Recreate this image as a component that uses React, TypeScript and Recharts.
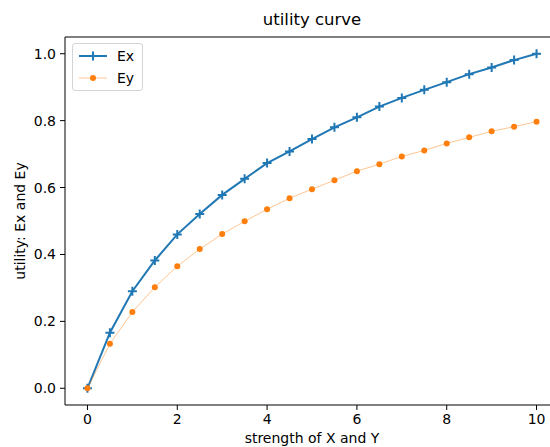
import { Line, LineChart, ReferenceLine, XAxis, YAxis } from "recharts";

const C = {
  ex: "#1f77b4",
  ey: "#ff7f0e",
  ink: "#000000",
};

const FONT = "'DejaVu Sans', sans-serif";
const AXIS = { fontSize: 14, fill: C.ink, fontFamily: FONT };

// strength of X and Y
const strength = [0, 0.5, 1, 1.5, 2, 2.5, 3, 3.5, 4, 4.5, 5, 5.5, 6, 6.5, 7, 7.5, 8, 8.5, 9, 9.5, 10];
const exValues = [
  0, 0.166, 0.29, 0.382, 0.46, 0.521, 0.578, 0.626, 0.673, 0.708, 0.745, 0.78, 0.81, 0.842, 0.868,
  0.892, 0.915, 0.939, 0.959, 0.981, 1.0,
];
const eyValues = [
  0, 0.133, 0.228, 0.302, 0.365, 0.416, 0.461, 0.499, 0.535, 0.568, 0.595, 0.622, 0.649, 0.67, 0.693,
  0.711, 0.732, 0.75, 0.768, 0.782, 0.797,
];
const xTicks = [0, 2, 4, 6, 8, 10];
const yTicks = [0, 0.2, 0.4, 0.6, 0.8, 1.0];

const data = strength.map((s, i) => ({ s, ex: exValues[i], ey: eyValues[i] }));

function Cross(props: any) {
  const { cx, cy, index } = props;
  if (cx == null || cy == null) return null;
  return (
    <path
      key={`c-${index}`}
      d={`M${cx - 4.5},${cy}H${cx + 4.5}M${cx},${cy - 4.5}V${cy + 4.5}`}
      stroke={C.ex}
      strokeWidth={2}
      fill="none"
    />
  );
}

function Dot(props: any) {
  const { cx, cy, index } = props;
  if (cx == null || cy == null) return null;
  return <circle key={`d-${index}`} cx={cx} cy={cy} r={3} fill={C.ey} />;
}

function LegendBox() {
  const row = (label: string, color: string, marker: "cross" | "dot", width: number, opacity: number) => (
    <div style={{ display: "flex", alignItems: "center", height: 22 }}>
      <svg width={28} height={12} style={{ marginRight: 10 }}>
        <line x1={0} y1={6} x2={28} y2={6} stroke={color} strokeWidth={width} strokeOpacity={opacity} />
        {marker === "cross" ? (
          <path d="M9.5,6H18.5M14,1.5V10.5" stroke={color} strokeWidth={2} />
        ) : (
          <circle cx={14} cy={6} r={3} fill={color} />
        )}
      </svg>
      <span>{label}</span>
    </div>
  );
  return (
    <div
      style={{
        position: "absolute",
        left: 72,
        top: 43,
        border: "1px solid #d4d4d4",
        borderRadius: 3,
        background: "rgba(255,255,255,0.8)",
        padding: "1px 8px 1px 6px",
        fontFamily: FONT,
        fontSize: 14,
        color: C.ink,
        lineHeight: "16px",
      }}
    >
      {row("Ex", C.ex, "cross", 2, 1)}
      {row("Ey", C.ey, "dot", 1, 0.45)}
    </div>
  );
}

export default function App() {
  return (
    <div style={{ position: "fixed", left: 0, top: 0, width: 550, height: 447, overflow: "hidden", background: "#fff" }}>
      <div
        style={{
          position: "absolute",
          left: 65,
          width: 494,
          top: 10,
          textAlign: "center",
          fontFamily: FONT,
          fontSize: 16.5,
          color: C.ink,
        }}
      >
        utility curve
      </div>
      <LineChart width={580} height={447} data={data} margin={{ top: 37, right: 21, left: 0, bottom: 0 }}>
        <XAxis
          dataKey="s"
          type="number"
          domain={[-0.5, 10.5]}
          ticks={xTicks}
          allowDataOverflow
          tick={AXIS}
          tickSize={5}
          tickMargin={4}
          tickLine={{ stroke: C.ink }}
          axisLine={{ stroke: C.ink }}
          height={42}
          label={{ value: "strength of X and Y", position: "insideBottom", offset: 4, fontSize: 14, fill: C.ink, fontFamily: FONT }}
        />
        <YAxis
          type="number"
          domain={[-0.05, 1.05]}
          ticks={yTicks}
          allowDataOverflow
          tick={AXIS}
          tickFormatter={(v: number) => v.toFixed(1)}
          tickSize={5}
          tickMargin={4}
          tickLine={{ stroke: C.ink }}
          axisLine={{ stroke: C.ink }}
          width={65}
          label={{ value: "utility: Ex and Ey", angle: -90, position: "center", dx: -12, fontSize: 14, fill: C.ink, fontFamily: FONT }}
        />
        <ReferenceLine y={1.05} stroke={C.ink} />
        <ReferenceLine x={10.5} stroke={C.ink} />
        <Line
          dataKey="ex"
          stroke={C.ex}
          strokeWidth={2}
          dot={Cross}
          activeDot={false}
          isAnimationActive={false}
        />
        <Line
          dataKey="ey"
          stroke={C.ey}
          strokeOpacity={0.45}
          strokeWidth={1}
          dot={Dot}
          activeDot={false}
          isAnimationActive={false}
        />
      </LineChart>
      <LegendBox />
    </div>
  );
}
